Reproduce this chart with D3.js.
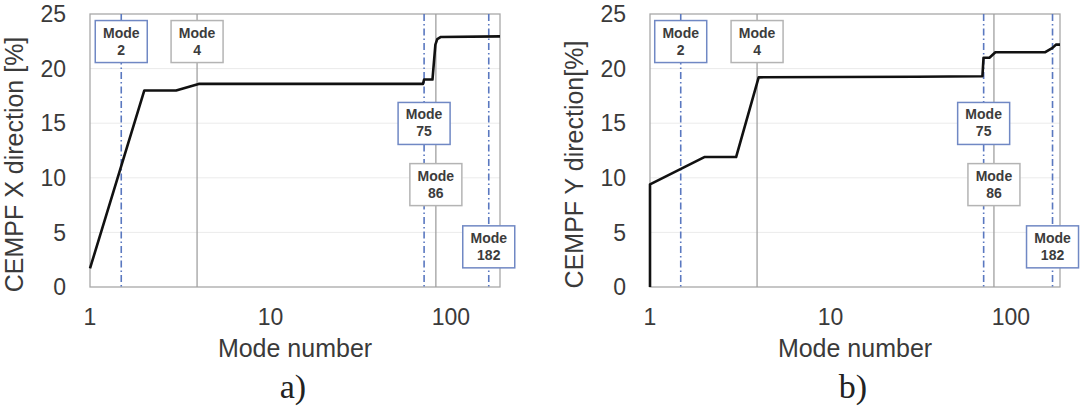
<!DOCTYPE html>
<html>
<head>
<meta charset="utf-8">
<script src="https://cdn.jsdelivr.net/npm/d3@7"></script>
<style>
  body { margin: 0; background: #fff; }
  svg { display: block; }
  text { font-family: "Liberation Sans", Arial, sans-serif; }
</style>
</head>
<body>
<script>
// mode numbers and cumulative effective modal participation (%)
var modesX = [1, 2, 3, 4, 70, 71, 79, 82, 84, 88, 187];
var cempfX = [1.7, 18.0, 18.0, 18.6, 18.6, 19.0, 19.0, 22.2, 22.7, 22.9, 22.95];

var modesY = [1, 1, 2, 3, 4, 30, 69.5, 70.5, 76, 82, 155, 170, 178, 187];
var cempfY = [0, 9.4, 11.9, 11.9, 19.2, 19.25, 19.3, 21.0, 21.0, 21.5, 21.5, 21.9, 22.2, 22.2];

// annotated modes
var markerLabels = ['2', '4', '75', '86', '182'];
var markerKinds = ['dash', 'solid', 'dash', 'solid', 'dash'];
var markerAtX = [1.49, 3.92, 71, 82.5, 162];
var markerAtY = [1.48, 3.92, 70.6, 80.5, 170];
var labelLevel = [24.4, 24.4, 16.9, 11.3, 5.6];

var yTicks = [0, 5, 10, 15, 20, 25];
var xTicks = [1, 10, 100];

var svg = d3.select('body').append('svg')
    .attr('width', 1085)
    .attr('height', 411);

function drawChart(left, modes, values, markerAt, yTitle, tag) {
    var w = 410, top = 14, h = 273;

    var x = d3.scaleLog().domain([1, 187]).range([left, left + w]);
    var y = d3.scaleLinear().domain([0, 25]).range([top + h, top]);

    var g = svg.append('g');

    // horizontal grid
    g.selectAll('.grid')
        .data(yTicks.slice(1, -1))
        .enter().append('line')
        .attr('x1', left).attr('x2', left + w)
        .attr('y1', function(d) { return y(d); })
        .attr('y2', function(d) { return y(d); })
        .attr('stroke', '#ebebeb')
        .attr('stroke-width', 1);

    // frame
    g.append('rect')
        .attr('x', left).attr('y', top)
        .attr('width', w).attr('height', h)
        .attr('fill', 'none')
        .attr('stroke', '#a8a8a8')
        .attr('stroke-width', 1.3);

    // y tick labels
    g.selectAll('.ytick')
        .data(yTicks)
        .enter().append('text')
        .attr('x', left - 24)
        .attr('y', function(d) { return y(d); })
        .attr('dy', '0.36em')
        .attr('text-anchor', 'end')
        .attr('font-size', 23)
        .attr('fill', '#3a3a3a')
        .text(function(d) { return d; });

    // x tick labels
    g.selectAll('.xtick')
        .data(xTicks)
        .enter().append('text')
        .attr('x', function(d) { return x(d); })
        .attr('y', 325)
        .attr('text-anchor', 'middle')
        .attr('font-size', 23)
        .attr('fill', '#3a3a3a')
        .text(function(d) { return d; });

    // axis titles
    g.append('text')
        .attr('x', left + w / 2)
        .attr('y', 357)
        .attr('text-anchor', 'middle')
        .attr('font-size', 25)
        .attr('fill', '#3a3a3a')
        .text('Mode number');

    g.append('text')
        .attr('transform', 'translate(' + (left - 67) + ',' + (top + h / 2 + 14) + ') rotate(-90)')
        .attr('text-anchor', 'middle')
        .attr('font-size', 25)
        .attr('fill', '#3a3a3a')
        .text(yTitle);

    // mode marker lines
    markerAt.forEach(function(m, i) {
        g.append('line')
            .attr('x1', x(m)).attr('x2', x(m))
            .attr('y1', top).attr('y2', top + h)
            .attr('stroke', markerKinds[i] === 'dash' ? '#5a78c0' : '#a0a0a0')
            .attr('stroke-width', markerKinds[i] === 'dash' ? 1.6 : 1.3)
            .attr('stroke-dasharray', markerKinds[i] === 'dash' ? '7,3,1.5,3' : null);
    });

    // CEMPF curve
    var line = d3.line()
        .x(function(d) { return x(d[0]); })
        .y(function(d) { return y(d[1]); });

    g.append('path')
        .datum(d3.zip(modes, values))
        .attr('d', line)
        .attr('fill', 'none')
        .attr('stroke', '#111')
        .attr('stroke-width', 2.6)
        .attr('stroke-linejoin', 'round');

    // mode labels
    markerAt.forEach(function(m, i) {
        var cx = x(m), ty = y(labelLevel[i]);
        var box = g.append('g');
        box.append('rect')
            .attr('x', cx - 26).attr('y', ty)
            .attr('width', 52).attr('height', 42)
            .attr('fill', '#fff')
            .attr('stroke', markerKinds[i] === 'dash' ? '#7088c4' : '#b4b4b4')
            .attr('stroke-width', 1.5);
        box.append('text')
            .attr('x', cx).attr('y', ty + 17)
            .attr('text-anchor', 'middle')
            .attr('font-size', 14)
            .attr('font-weight', 'bold')
            .attr('fill', '#3c3c3c')
            .text('Mode');
        box.append('text')
            .attr('x', cx).attr('y', ty + 34)
            .attr('text-anchor', 'middle')
            .attr('font-size', 14)
            .attr('font-weight', 'bold')
            .attr('fill', '#3c3c3c')
            .text(markerLabels[i]);
    });

    // sub caption
    g.append('text')
        .attr('x', left + w / 2 - 2)
        .attr('y', 398)
        .attr('text-anchor', 'middle')
        .style('font-family', '"Liberation Serif", "Times New Roman", serif')
        .attr('font-size', 34)
        .attr('fill', '#222')
        .text(tag);
}

drawChart(90, modesX, cempfX, markerAtX, 'CEMPF X direction [%]', 'a)');
drawChart(650, modesY, cempfY, markerAtY, 'CEMPF Y direction[%]', 'b)');
</script>
</body>
</html>
